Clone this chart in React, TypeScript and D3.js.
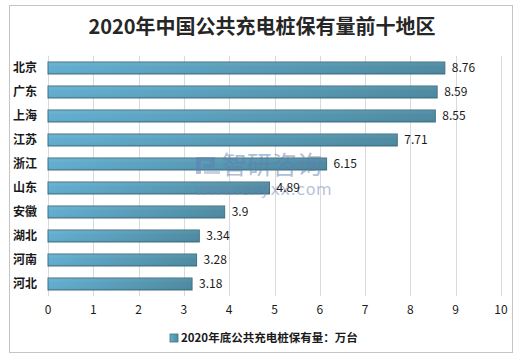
import React from "react";
import * as d3 from "d3";

const categories = ["北京", "广东", "上海", "江苏", "浙江", "山东", "安徽", "湖北", "河南", "河北"];
const values = [8.76, 8.59, 8.55, 7.71, 6.15, 4.89, 3.9, 3.34, 3.28, 3.18];
const xTicks = [0, 1, 2, 3, 4, 5, 6, 7, 8, 9, 10];
const title = "2020年中国公共充电桩保有量前十地区";
const legendLabel = "2020年底公共充电桩保有量：万台";

const W = 525;
const H = 355;
const FONT = "'Noto Sans CJK SC', 'Microsoft YaHei', sans-serif";

export default function App() {
  const x = d3.scaleLinear().domain([0, 10]).range([48, 501]);
  const y = d3.scaleBand<string>().domain(categories).range([56, 296]).paddingInner(0.5).paddingOuter(0.25);
  const bw = y.bandwidth();

  return (
    <svg width={W} height={H} style={{ position: "absolute", left: 0, top: 0, display: "block" }}>
      <defs>
        <linearGradient id="barGrad" x1="0" y1="0" x2="1" y2="0">
          <stop offset="0%" stopColor="#62aed0" />
          <stop offset="100%" stopColor="#4d8aa1" />
        </linearGradient>
        <linearGradient id="barShade" x1="0" y1="0" x2="0" y2="1">
          <stop offset="0%" stopColor="#ffffff" stopOpacity={0.08} />
          <stop offset="50%" stopColor="#ffffff" stopOpacity={0} />
          <stop offset="100%" stopColor="#000000" stopOpacity={0.06} />
        </linearGradient>
      </defs>
      <rect x={0} y={0} width={W} height={H} fill="#ffffff" />
      <rect x={9.5} y={5.5} width={503} height={347} fill="#ffffff" stroke="#c4c4c4" strokeWidth={1} />

      <text x={262} y={34} textAnchor="middle" fontFamily={FONT} fontSize={20} fontWeight="bold" fill="#262626">
        {title}
      </text>

      {xTicks.map((t) => (
        <line key={"g" + t} x1={Math.round(x(t)) + 0.5} x2={Math.round(x(t)) + 0.5} y1={56} y2={296} stroke="#d9d9d9" strokeWidth={1} />
      ))}

      {categories.map((c, i) => {
        const yy = y(c) as number;
        return (
          <g key={c}>
            <rect x={x(0)} y={yy} width={x(values[i]) - x(0)} height={bw} fill="url(#barGrad)" stroke="#41707f" strokeWidth={1} />
            <rect x={x(0)} y={yy} width={x(values[i]) - x(0)} height={bw} fill="url(#barShade)" />
            <text x={37} y={yy + bw / 2 + 4} textAnchor="end" fontFamily={FONT} fontSize={12} fontWeight="bold" fill="#1a1a1a">
              {c}
            </text>
          </g>
        );
      })}

      <g opacity={0.5} fill="#5f7fae">
        <rect x={196} y={157} width={5} height={17} />
        <rect x={196} y={157} width={18} height={4} />
        <rect x={210} y={157} width={5} height={10} />
        <rect x={203} y={164} width={11} height={4} />
        <rect x={204} y={170} width={16} height={4} fill="#8fa6c8" />
        <text x={222} y={174} fontFamily={FONT} fontSize={25} fill="#5f7fae">智研咨询</text>
        <text x={195} y={195} fontFamily="'DejaVu Sans', sans-serif" fontSize={16} letterSpacing={0.6} fill="#6d87b3">www.chyxx.com</text>
      </g>

      {categories.map((c, i) => {
        const yy = y(c) as number;
        return (
          <text key={"v" + c} x={x(values[i]) + 7} y={yy + bw / 2 + 4} fontFamily={FONT} fontSize={12} fill="#1a1a1a">
            {String(values[i])}
          </text>
        );
      })}

      {xTicks.map((t) => (
        <text key={"t" + t} x={x(t)} y={314} textAnchor="middle" fontFamily={FONT} fontSize={12} fill="#1a1a1a">
          {t}
        </text>
      ))}

      <rect x={170} y={334} width={8} height={8} fill="url(#barGrad)" stroke="#41707f" strokeWidth={0.8} />
      <text x={181} y={342} fontFamily={FONT} fontSize={11.5} fontWeight="bold" fill="#1a1a1a">
        {legendLabel}
      </text>
    </svg>
  );
}
